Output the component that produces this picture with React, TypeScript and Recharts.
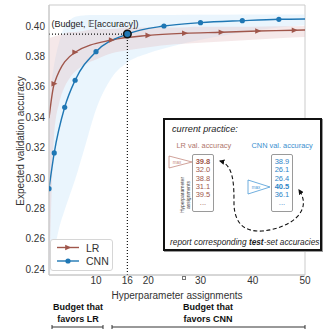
import {
  ComposedChart,
  Line,
  Area,
  XAxis,
  YAxis,
  ReferenceLine,
  ReferenceDot,
  ReferenceArea,
} from "recharts";

// expected max validation accuracy vs. number of hyperparameter assignments
const cnnX = [1, 2, 4, 6, 10, 16, 23, 30, 38, 45, 50];
const cnnAcc = [0.293, 0.3165, 0.3465, 0.3643, 0.3831, 0.3947, 0.4, 0.4022, 0.4035, 0.4044, 0.4046];
const cnnMarkX = [1, 2, 4, 6, 10, 16, 23, 30, 38, 45];

const lrX = [1, 2, 6, 13, 20, 27, 34, 41, 48, 50];
const lrAcc = [0.3393, 0.362, 0.3827, 0.3908, 0.3938, 0.3952, 0.3959, 0.3967, 0.3972, 0.3974];
const lrMarkX = [2, 6, 13, 20, 27, 34, 41, 48];

// shaded variance bands
const bandX = [1, 2, 3, 4, 5, 6, 8, 10, 13, 16, 20, 25, 30, 35, 40, 45, 50];
const cnnLo = [0.234, 0.252, 0.268, 0.279, 0.289, 0.299, 0.322, 0.345, 0.366, 0.376, 0.382, 0.387, 0.391, 0.394, 0.397, 0.399, 0.4005];
const cnnHi = [0.35, 0.375, 0.39, 0.4, 0.404, 0.406, 0.407, 0.4072, 0.4072, 0.4072, 0.4073, 0.4073, 0.4074, 0.4074, 0.4075, 0.4075, 0.4075];
const lrLo = [0.23, 0.33, 0.35, 0.36, 0.366, 0.37, 0.375, 0.378, 0.382, 0.384, 0.386, 0.388, 0.389, 0.39, 0.391, 0.392, 0.3928];
const lrHi = [0.392, 0.393, 0.394, 0.395, 0.396, 0.396, 0.397, 0.398, 0.398, 0.399, 0.399, 0.399, 0.3995, 0.3995, 0.3995, 0.3998, 0.4];

const budgetX = 16;
const budgetAcc = 0.3947;

const xTicks = [10, 16, 20, 30, 40, 50];
const yTicks = [0.24, 0.26, 0.28, 0.3, 0.32, 0.34, 0.36, 0.38, 0.4];
const yDomain = [0.2362, 0.4138];

// inset table
const lrVals = ["39.8", "32.0", "38.8", "31.1", "39.5", "..."];
const cnnVals = ["38.9", "26.1", "26.4", "40.5", "36.1", "..."];

const FONT = '"Liberation Sans", Arial, Helvetica, sans-serif';
const BLUE = "#1f77b4";
const BROWN = "#a0564b";

const cnnData = cnnX.map((x, i) => ({ x, y: cnnAcc[i] }));
const lrData = lrX.map((x, i) => ({ x, y: lrAcc[i] }));
const bandData = bandX.map((x, i) => ({ x, cnn: [cnnLo[i], cnnHi[i]], lr: [lrLo[i], lrHi[i]] }));

const argmax = (vals: string[]) => {
  let best = 0;
  vals.forEach((v, i) => {
    if (parseFloat(v) > parseFloat(vals[best])) best = i;
  });
  return best;
};

const circleDot = (p: any) => {
  if (!cnnMarkX.includes(p.payload.x)) return <g key={`c${p.index}`} />;
  return <circle key={`c${p.index}`} cx={p.cx} cy={p.cy} r={2.6} fill={BLUE} />;
};

const triDot = (p: any) => {
  if (!lrMarkX.includes(p.payload.x)) return <g key={`t${p.index}`} />;
  const { cx, cy } = p;
  return (
    <polygon
      key={`t${p.index}`}
      points={`${cx - 2.8},${cy - 2.8} ${cx + 3.2},${cy} ${cx - 2.8},${cy + 2.8}`}
      fill={BROWN}
    />
  );
};

const abs = (left: number, top: number, extra: any = {}) => ({
  position: "absolute" as const,
  left,
  top,
  fontFamily: FONT,
  whiteSpace: "nowrap" as const,
  ...extra,
});

const center = (x: number, y: number, extra: any = {}) =>
  abs(x, y, { transform: "translate(-50%, -50%)", ...extra });

const ValueColumn = ({ vals, color, left }: { vals: string[]; color: string; left: number }) => {
  const best = argmax(vals.filter((v) => v !== "..."));
  return (
    <div
      style={abs(left, 154, {
        width: 22,
        height: 58,
        border: "1px solid #9a9a9a",
        borderRadius: 2,
        background: "#fff",
        boxSizing: "border-box",
        paddingTop: 3,
        textAlign: "center",
        fontSize: 7.5,
        lineHeight: "8.3px",
        color,
      })}
    >
      {vals.map((v, i) => (
        <div key={i} style={{ fontWeight: i === best ? 700 : 400 }}>
          {v}
        </div>
      ))}
    </div>
  );
};

const MaxTri = ({ x0, y0, y1, tip, color }: any) => (
  <svg style={{ position: "absolute", left: 0, top: 0 }} width={334} height={329}>
    <polygon
      points={`${x0},${y0} ${tip},${(y0 + y1) / 2} ${x0},${y1}`}
      fill="#fff"
      stroke={color}
      strokeWidth={0.8}
    />
    <text
      x={x0 + 8}
      y={(y0 + y1) / 2 + 1.6}
      fontSize={4.5}
      fill={color}
      fontFamily={FONT}
      textAnchor="middle"
    >
      max
    </text>
  </svg>
);

export default function App() {
  return (
    <div style={{ position: "absolute", left: 0, top: 0, width: 334, height: 329, background: "#fff" }}>
      <ComposedChart
        width={334}
        height={329}
        margin={{ top: 5, right: 29, bottom: 34, left: 9 }}
      >
        <XAxis
          type="number"
          dataKey="x"
          domain={[1, 50]}
          ticks={xTicks}
          allowDataOverflow
          height={20}
          tickLine={false}
          tickSize={2}
          tickMargin={0}
          axisLine={{ stroke: "#c8c8c8" }}
          tick={{ fontSize: 10, fill: "#333", fontFamily: FONT }}
        />
        <YAxis
          type="number"
          domain={yDomain}
          ticks={yTicks}
          allowDataOverflow
          width={40}
          tickLine={false}
          tickSize={2}
          tickMargin={2}
          axisLine={{ stroke: "#c8c8c8" }}
          tickFormatter={(v: number) => v.toFixed(2)}
          tick={{ fontSize: 10, fill: "#333", fontFamily: FONT }}
        />
        <ReferenceArea
          x1={1}
          x2={50}
          y1={yDomain[0]}
          y2={yDomain[1]}
          fill="none"
          stroke="#cbcbcb"
          ifOverflow="visible"
        />
        <Area
          data={bandData}
          dataKey="cnn"
          type="monotone"
          stroke="none"
          fill="#cde6fa"
          fillOpacity={0.42}
          isAnimationActive={false}
          activeDot={false}
        />
        <Area
          data={bandData}
          dataKey="lr"
          type="monotone"
          stroke="none"
          fill="#e6c3c4"
          fillOpacity={0.38}
          isAnimationActive={false}
          activeDot={false}
        />
        <ReferenceLine
          segment={[
            { x: 1, y: budgetAcc },
            { x: budgetX, y: budgetAcc },
          ]}
          stroke="#111"
          strokeWidth={1.2}
          strokeDasharray="1 2"
        />
        <ReferenceLine
          segment={[
            { x: budgetX, y: budgetAcc },
            { x: budgetX, y: yDomain[0] },
          ]}
          stroke="#111"
          strokeWidth={1.2}
          strokeDasharray="1 2"
        />
        <Line
          data={lrData}
          dataKey="y"
          type="monotone"
          stroke={BROWN}
          strokeWidth={1.4}
          dot={triDot}
          activeDot={false}
          isAnimationActive={false}
        />
        <Line
          data={cnnData}
          dataKey="y"
          type="monotone"
          stroke={BLUE}
          strokeWidth={1.4}
          dot={circleDot}
          activeDot={false}
          isAnimationActive={false}
        />
        <ReferenceDot x={budgetX} y={budgetAcc} r={3.8} fill={BLUE} stroke="#111" strokeWidth={1.5} />
      </ComposedChart>

      {/* annotations */}
      <div style={abs(51.5, 18.5, { fontSize: 9, color: "#222" })}>
        (Budget, <span style={{ fontFamily: '"DejaVu Sans", "DejaVu Serif", serif' }}>{"\u{1D53C}"}</span>[accuracy])
      </div>
      <div style={center(20, 141, { fontSize: 10, color: "#333", transform: "translate(-50%, -50%) rotate(-90deg)" })}>
        Expected validation accuracy
      </div>
      <div style={center(177, 295, { fontSize: 10, color: "#333" })}>Hyperparameter assignments</div>
      <div style={abs(182, 276, { width: 4, height: 4, border: "0.8px solid #777", boxSizing: "border-box" })} />

      {/* legend */}
      <div
        style={abs(50, 239, {
          width: 63,
          height: 32,
          border: "1px solid #d6d6d6",
          borderRadius: 3,
          background: "#fff",
          boxSizing: "border-box",
        })}
      />
      <svg style={{ position: "absolute", left: 0, top: 0 }} width={334} height={329}>
        <line x1={57} y1={247.5} x2={79} y2={247.5} stroke={BROWN} strokeWidth={1.4} />
        <polygon points="65.2,244.7 71.2,247.5 65.2,250.3" fill={BROWN} />
        <line x1={57} y1={261} x2={79} y2={261} stroke={BLUE} strokeWidth={1.4} />
        <circle cx={68} cy={261} r={2.6} fill={BLUE} />
      </svg>
      <div style={abs(86, 241.5, { fontSize: 10.5, color: "#333" })}>LR</div>
      <div style={abs(86, 255, { fontSize: 10.5, color: "#333" })}>CNN</div>

      {/* bottom budget brackets */}
      <div style={center(78, 307, { fontSize: 9, fontWeight: 700, color: "#111" })}>Budget that</div>
      <div style={center(78, 318.5, { fontSize: 9, fontWeight: 700, color: "#111" })}>favors LR</div>
      <div style={center(208, 307, { fontSize: 9, fontWeight: 700, color: "#111" })}>Budget that</div>
      <div style={center(208, 318.5, { fontSize: 9, fontWeight: 700, color: "#111" })}>favors CNN</div>
      <svg style={{ position: "absolute", left: 0, top: 0 }} width={334} height={329}>
        <g stroke="#333" strokeWidth={1}>
          <line x1={52} y1={327} x2={103} y2={327} />
          <line x1={52} y1={325} x2={52} y2={329} />
          <line x1={103} y1={325} x2={103} y2={329} />
          <line x1={112} y1={327} x2={305} y2={327} />
          <line x1={112} y1={325} x2={112} y2={329} />
          <line x1={305} y1={325} x2={305} y2={329} />
        </g>
      </svg>

      {/* inset: current practice */}
      <div
        style={abs(163, 118, {
          width: 159,
          height: 133,
          border: "2px solid #111",
          boxShadow: "1px 1px 0 #999",
          background: "#fff",
          boxSizing: "border-box",
        })}
      />
      <div style={abs(172, 124, { fontSize: 9.2, fontStyle: "italic", color: "#222" })}>current practice:</div>
      <div style={abs(176.5, 140.5, { fontSize: 7.4, color: "#b0766c" })}>LR val. accuracy</div>
      <div style={abs(251.5, 140.5, { fontSize: 7.4, color: "#3b8fcf" })}>CNN val. accuracy</div>
      <ValueColumn vals={lrVals} color={BROWN} left={192} />
      <ValueColumn vals={cnnVals} color="#2f86c8" left={271} />
      <MaxTri x0={169} y0={156} y1={168} tip={192} color="#c48a80" />
      <MaxTri x0={248} y0={180} y1={194} tip={270} color="#4b9ad6" />
      <div
        style={center(184.5, 195, {
          fontSize: 5,
          lineHeight: "6px",
          color: "#444",
          textAlign: "center",
          transform: "translate(-50%, -50%) rotate(-90deg)",
        })}
      >
        Hyperparameter
        <br />
        assignments
      </div>
      <svg style={{ position: "absolute", left: 0, top: 0 }} width={334} height={329}>
        <defs>
          <marker id="ah" viewBox="0 0 10 10" refX="8" refY="5" markerWidth="5" markerHeight="5" orient="auto-start-reverse">
            <path d="M0,0 L10,5 L0,10 z" fill="#111" />
          </marker>
        </defs>
        <path
          d="M 220 161 C 234 165, 234 185, 234 205 C 235 225, 246 232, 262 231 C 288 229, 314 212, 299 190"
          fill="none"
          stroke="#111"
          strokeWidth={1.1}
          strokeDasharray="4 2.5"
          markerStart="url(#ah)"
          markerEnd="url(#ah)"
        />
      </svg>
      <div style={abs(170, 236.5, { fontSize: 8.3, fontStyle: "italic", color: "#222" })}>
        report corresponding <b>test</b>-set accuracies
      </div>
    </div>
  );
}
